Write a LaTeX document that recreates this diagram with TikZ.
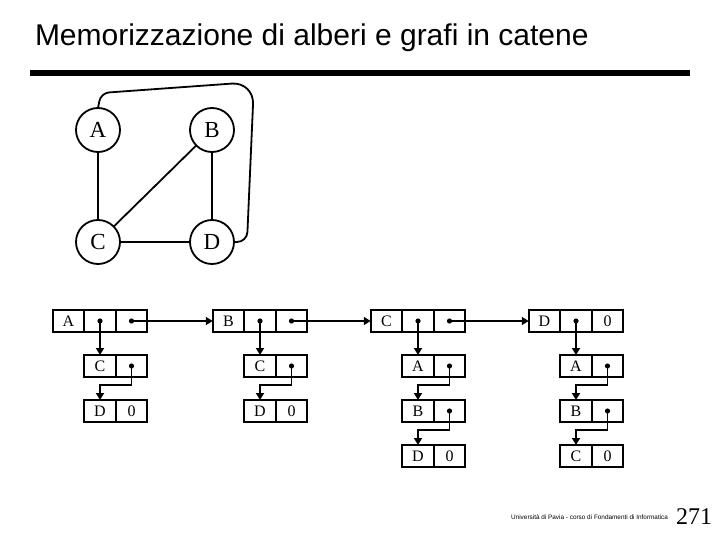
\documentclass[tikz,border=0pt]{standalone}
\usepackage{fontspec}
\setmainfont{Liberation Serif}
\newfontfamily\arial{Liberation Sans}
\usetikzlibrary{positioning,arrows.meta}

\begin{document}
\begin{tikzpicture}[x=1pt,y=-1pt]
\tikzstyle{every node}=[inner sep=0pt, outer sep=0pt]
\tikzstyle{vertex}=[draw, circle, line width=1.8, minimum size=44, font=\fontsize{23}{23}\selectfont]
\tikzstyle{cell}=[draw, line width=1.8, minimum width=31.5, minimum height=22, font=\fontsize{16}{16}\selectfont]
\tikzstyle{ptr}=[line width=1.8, -{Triangle[length=7,width=8]}]
\useasboundingbox (0,0) rectangle (720,540);

% titolo
\node[anchor=base west, font=\arial\fontsize{30}{30}\selectfont] (title) at (35,46) {Memorizzazione di alberi e grafi in catene};
\coordinate (ruleL) at (30,73);
\coordinate (ruleR) at (690,73);
\draw[line width=6] (ruleL) -- (ruleR);

% grafo
\node[vertex] (gA) at (98,130) {A};
\node[vertex] (gB) at (212,130) {B};
\node[vertex] (gC) at (98,242) {C};
\node[vertex] (gD) at (212,242) {D};
\draw[line width=1.8] (gA) -- (gC);
\draw[line width=1.8] (gB) -- (gD);
\draw[line width=1.8] (gC) -- (gD);
\draw[line width=1.8] (gB) -- (gC);
\draw[line width=1.8] (gA.north) [rounded corners=8] -- (101,93) [rounded corners=22] -- (254,82) [rounded corners=10] -- (247,242) -- (gD.east);

% lista principale
\node[cell] (a1) at (68.5,321) {A};
\node[cell, right=0pt of a1] (a2) {};
\node[cell, right=0pt of a2] (a3) {};
\node[cell] (b1) at (228.5,321) {B};
\node[cell, right=0pt of b1] (b2) {};
\node[cell, right=0pt of b2] (b3) {};
\node[cell] (c1) at (386.5,321) {C};
\node[cell, right=0pt of c1] (c2) {};
\node[cell, right=0pt of c2] (c3) {};
\node[cell] (d1) at (544.5,321) {D};
\node[cell, right=0pt of d1] (d2) {};
\node[cell, right=0pt of d2] (d3) {0};

% adiacenti di A
\node[cell, below=23pt of a2] (ac1) {C};
\node[cell, right=0pt of ac1] (ac2) {};
\node[cell, below=23pt of ac1] (ad1) {D};
\node[cell, right=0pt of ad1] (ad2) {0};
% adiacenti di B
\node[cell, below=23pt of b2] (bc1) {C};
\node[cell, right=0pt of bc1] (bc2) {};
\node[cell, below=23pt of bc1] (bd1) {D};
\node[cell, right=0pt of bd1] (bd2) {0};
% adiacenti di C
\node[cell, below=23pt of c2] (ca1) {A};
\node[cell, right=0pt of ca1] (ca2) {};
\node[cell, below=23pt of ca1] (cb1) {B};
\node[cell, right=0pt of cb1] (cb2) {};
\node[cell, below=23pt of cb1] (cd1) {D};
\node[cell, right=0pt of cd1] (cd2) {0};
% adiacenti di D
\node[cell, below=23pt of d2] (da1) {A};
\node[cell, right=0pt of da1] (da2) {};
\node[cell, below=23pt of da1] (db1) {B};
\node[cell, right=0pt of db1] (db2) {};
\node[cell, below=23pt of db1] (dc1) {C};
\node[cell, right=0pt of dc1] (dc2) {0};

% puntatori
\foreach \p in {a2,a3,b2,b3,c2,c3,d2,ac2,bc2,ca2,cb2,da2,db2}
  \fill (\p.center) circle (2.6pt);
\draw[ptr] (a3.center) -- (b1.west);
\draw[ptr] (b3.center) -- (c1.west);
\draw[ptr] (c3.center) -- (d1.west);
\draw[ptr] (a2.center) -- (ac1.north);
\draw[ptr] (b2.center) -- (bc1.north);
\draw[ptr] (c2.center) -- (ca1.north);
\draw[ptr] (d2.center) -- (da1.north);
\draw[ptr] (ac2.center) -- ++(0,19) -| (ad1.north);
\draw[ptr] (bc2.center) -- ++(0,19) -| (bd1.north);
\draw[ptr] (ca2.center) -- ++(0,19) -| (cb1.north);
\draw[ptr] (cb2.center) -- ++(0,19) -| (cd1.north);
\draw[ptr] (da2.center) -- ++(0,19) -| (db1.north);
\draw[ptr] (db2.center) -- ++(0,19) -| (dc1.north);

% pie di pagina
\node[anchor=east, font=\arial\fontsize{6.4}{7}\selectfont] (uni) at (668,517) {Università di Pavia - corso di Fondamenti di Informatica};
\node[anchor=east, font=\fontsize{24}{24}\selectfont] (page) at (712,517) {271};
\end{tikzpicture}
\end{document}
